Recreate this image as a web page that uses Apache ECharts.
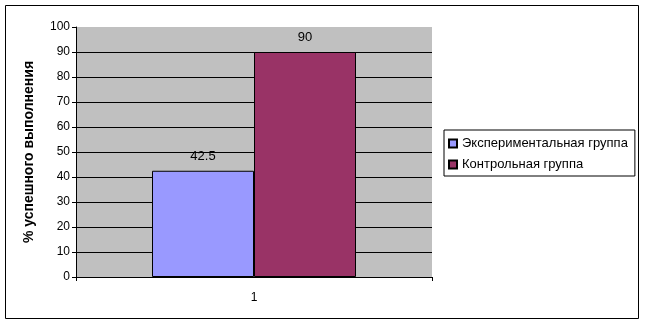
<!DOCTYPE html>
<html><head><meta charset="utf-8">
<script src="https://cdn.jsdelivr.net/npm/echarts@6/dist/echarts.min.js"></script>
<style>html,body{margin:0;padding:0;background:#fff}#c{width:645px;height:325px}</style>
</head><body><div id="c"></div>
<script>
const categories = ['1'];
const seriesNames = ['Экспериментальная группа', 'Контрольная группа'];
const experimental = [42.5];
const control = [90];
const yAxisName = '% успешного выполнения';

const chart = echarts.init(document.getElementById('c'), null, {renderer: 'canvas'});
const font = 'Liberation Sans, Arial, sans-serif';
chart.setOption({
  animation: false,
  textStyle: {fontFamily: font},
  graphic: [{
    type: 'rect', shape: {x: 5.5, y: 5.5, width: 633, height: 313},
    style: {fill: 'none', stroke: '#000', lineWidth: 1}, silent: true, z: 100
  }],
  grid: {left: 76, top: 27, width: 356, height: 250, show: true, backgroundColor: '#c0c0c0', borderWidth: 0},
  legend: {
    orient: 'vertical', left: 444, top: 130,
    padding: [7, 7, 5, 4], itemGap: 8, itemWidth: 8, itemHeight: 8,
    borderColor: '#000', borderWidth: 1, backgroundColor: '#fff',
    icon: 'rect',
    textStyle: {fontFamily: font, fontSize: 13, color: '#000'},
    data: seriesNames
  },
  xAxis: {
    type: 'category', data: categories,
    axisLine: {lineStyle: {color: '#000', width: 1}},
    axisTick: {show: true, length: 4, lineStyle: {color: '#000'}},
    axisLabel: {color: '#000', fontSize: 12, margin: 15, fontFamily: font}
  },
  yAxis: {
    type: 'value', min: 0, max: 100, interval: 10,
    name: yAxisName, nameLocation: 'middle', nameGap: 40, nameRotate: 90,
    nameTextStyle: {fontFamily: font, fontSize: 14, fontWeight: 'bold', color: '#000'},
    axisLine: {show: true, lineStyle: {color: '#000', width: 1}},
    axisTick: {show: true, length: 4, lineStyle: {color: '#000'}},
    axisLabel: {color: '#000', fontSize: 12, margin: 6, fontFamily: font},
    splitLine: {show: true, showMaxLine: false, lineStyle: {color: '#000', width: 1}}
  },
  series: [
    {name: seriesNames[0], type: 'bar', data: experimental, barWidth: 102, barGap: '0%',
     itemStyle: {color: '#9999ff', borderColor: '#000', borderWidth: 1},
     label: {show: true, position: 'top', distance: 8, color: '#000', fontSize: 13, fontFamily: font}},
    {name: seriesNames[1], type: 'bar', data: control, barWidth: 102, barGap: '0%',
     itemStyle: {color: '#993366', borderColor: '#000', borderWidth: 1},
     label: {show: true, position: 'top', distance: 8, color: '#000', fontSize: 13, fontFamily: font}}
  ]
});
</script></body></html>
